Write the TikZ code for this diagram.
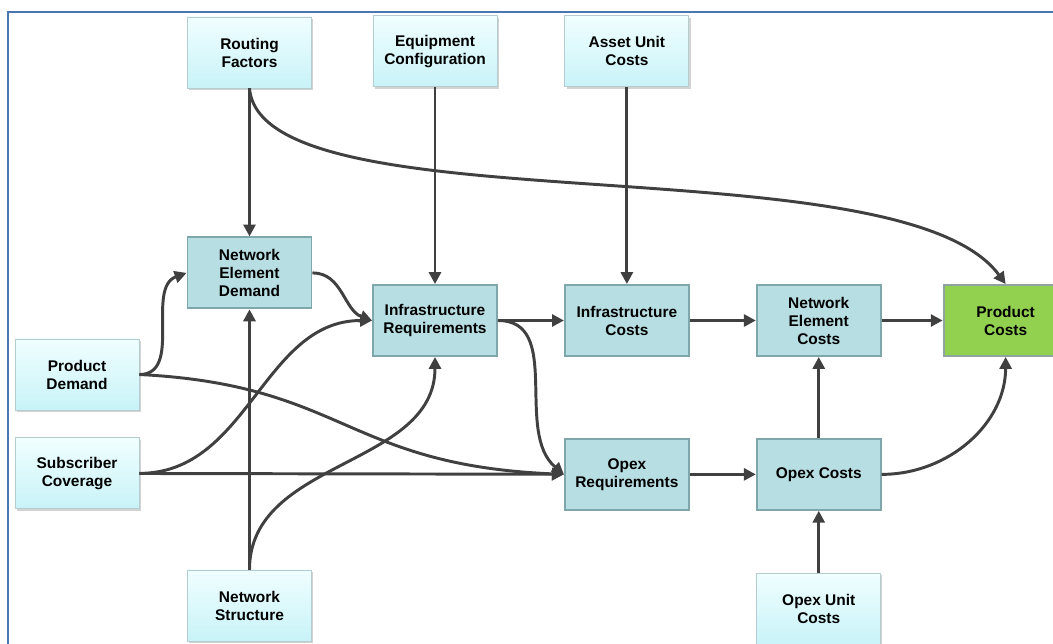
\documentclass[tikz,border=0pt]{standalone}
\usepackage{fontspec}
\setmainfont{Liberation Sans}
\usetikzlibrary{arrows.meta,positioning,shadows}

\definecolor{framelineblue}{HTML}{4A76B4}
\definecolor{inputtop}{HTML}{F0FEFF}
\definecolor{inputbottom}{HTML}{C8F3F8}
\definecolor{inputline}{HTML}{B5CDD0}
\definecolor{stagefill}{HTML}{B7DEE2}
\definecolor{stageline}{HTML}{7FA7AB}
\definecolor{outputfill}{HTML}{92D050}
\definecolor{outputline}{HTML}{8FA3A0}
\definecolor{linkgray}{HTML}{404040}

\begin{document}
\begin{tikzpicture}
[x=0.025cm, y=0.025cm,
% STYLES
every node/.style={font=\bfseries\fontsize{11}{12.8}\selectfont, align=center},
% The inputbox style is used for the data that feeds the model
inputbox/.style={rectangle, draw=inputline, line width=0.6pt, top color=inputtop, bottom color=inputbottom, minimum width=3.1cm, minimum height=1.775cm, inner sep=2pt, drop shadow={shadow xshift=1.2pt, shadow yshift=-1.5pt, opacity=0.35}},
% The stagebox style is used for the calculation steps
stagebox/.style={rectangle, draw=stageline, line width=1.3pt, fill=stagefill, minimum width=3.1cm, minimum height=1.775cm, inner sep=2pt},
% The outputbox style is used for the final result
outputbox/.style={stagebox, draw=outputline, fill=outputfill},
link/.style={-{Triangle[length=8.5pt, width=8.5pt]}, line width=2.1pt, color=linkgray},
frameline/.style={draw=framelineblue, line width=1.4pt}]

\useasboundingbox (0,0) rectangle (1053,-644);
\draw[frameline] (8,-650) -- (8,-12) -- (1060,-12);

% Draw inputs
\node [inputbox] (routing) at (249.5,-52.5) {Routing\\Factors};
\node [inputbox] (proddemand) at (77,-374.5) {Product\\Demand};
\node [inputbox, below=0.675cm of proddemand] (subscov) {Subscriber\\Coverage};
\node [inputbox] (netstruct) at (249.5,-605.5) {Network\\Structure};

% Draw stages
\node [stagebox, below=3.7cm of routing] (nedemand) {Network\\Element\\Demand};
\node [stagebox] (infrareq) at (435,-320.5) {Infrastructure\\Requirements};
\node [stagebox, right=1.65cm of infrareq] (infracost) {Infrastructure\\Costs};
\node [stagebox, right=1.65cm of infracost] (necost) {Network\\Element\\Costs};
\node [outputbox, right=1.525cm of necost] (prodcost) {Product\\Costs};
\node [stagebox, below=2.025cm of infracost] (opexreq) {Opex\\Requirements};
\node [stagebox, right=1.65cm of opexreq] (opexcost) {Opex Costs};

% Inputs placed on the stages
\node [inputbox, above=4.925cm of infrareq] (equipcfg) {Equipment\\Configuration};
\node [inputbox, above=4.925cm of infracost] (assetunit) {Asset Unit\\Costs};
\node [inputbox, below=1.55cm of opexcost] (opexunit) {Opex Unit\\Costs};

% Draw the straight links
\path[link]
    (routing) edge (nedemand)
    (equipcfg) edge (infrareq)
    (assetunit) edge (infracost)
    (netstruct) edge (nedemand)
    (infrareq) edge (infracost)
    (infracost) edge (necost)
    (necost) edge (prodcost)
    (opexreq) edge (opexcost)
    (opexcost) edge (necost)
    (opexunit) edge (opexcost)
    (subscov) edge (opexreq);

% Draw the curved links
\path[link]
    (proddemand.east) edge[out=0, in=200] (nedemand.west)
    (nedemand.east) edge[out=0, in=160] (infrareq.west)
    (subscov.east) edge[out=0, in=180] (infrareq.west)
    (netstruct.north) edge[out=90, in=-90] (infrareq.south)
    (infrareq.east) edge[out=0, in=140] (opexreq.west)
    (opexcost.east) edge[out=0, in=-90] (prodcost.south);
\draw[link] (proddemand.east) .. controls (345,-385) and (345,-465) .. (opexreq.west);
\draw[link] (routing.south) .. controls (262,-230) and (900,-140) .. (prodcost.north);

\end{tikzpicture}
\end{document}
